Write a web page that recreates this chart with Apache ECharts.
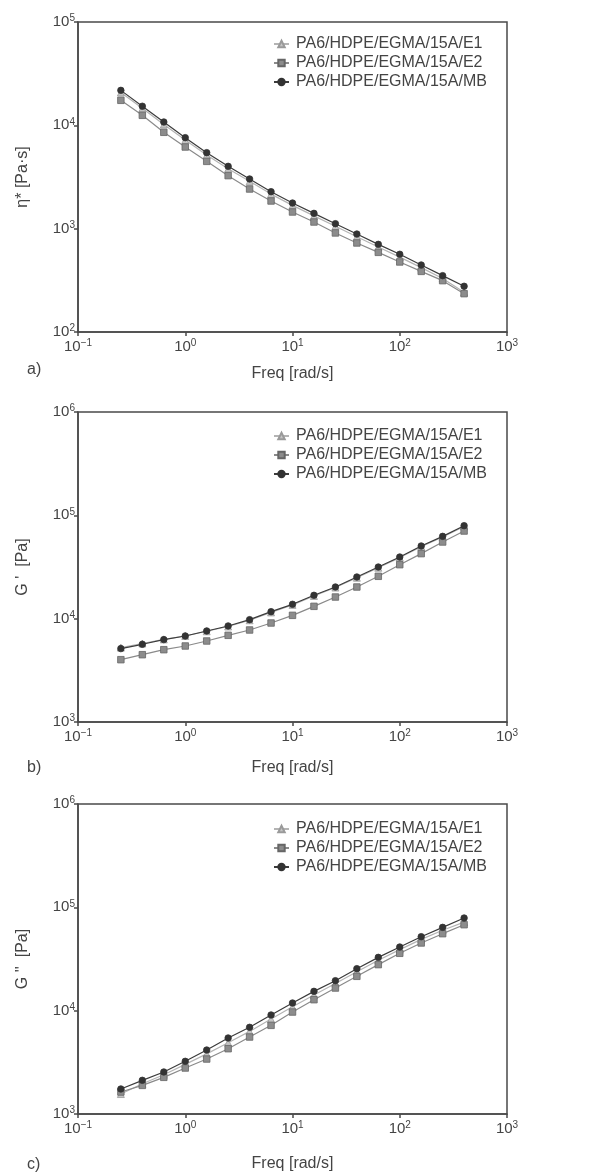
<!DOCTYPE html>
<html>
<head>
<meta charset="utf-8">
<script src="https://cdn.jsdelivr.net/npm/echarts@6/dist/echarts.min.js"></script>
<style>
html,body{margin:0;padding:0;background:#fff;}
#c{width:596px;height:1174px;}
</style>
</head>
<body>
<div id="c"></div>
<script>
// ---- data ----
const freq = [0.251, 0.398, 0.631, 1.0, 1.585, 2.512, 3.981, 6.31, 10, 15.85, 25.12, 39.81, 63.1, 100, 158.5, 251.2, 398.1];
const seriesNames = ['PA6/HDPE/EGMA/15A/E1', 'PA6/HDPE/EGMA/15A/E2', 'PA6/HDPE/EGMA/15A/MB'];

// a) complex viscosity eta* [Pa·s]
const etaE1 = [20800, 14600, 10200, 7200, 5150, 3800, 2870, 2160, 1680, 1330, 1055, 835, 665, 530, 420, 330, 242];
const etaE2 = [17460, 12500, 8560, 6170, 4480, 3260, 2420, 1853, 1450, 1160, 909, 727, 590, 476, 386, 314, 235];
const etaMB = [21800, 15300, 10770, 7600, 5440, 4010, 3025, 2280, 1770, 1406, 1117, 887, 705, 565, 445, 351, 277];

// b) storage modulus G' [Pa]
const gpE1 = [5250, 5750, 6300, 6800, 7550, 8400, 9650, 11500, 13600, 16600, 20000, 24900, 31100, 39000, 49800, 61800, 78000];
const gpE2 = [4010, 4480, 5010, 5440, 6080, 6900, 7770, 9080, 10770, 13160, 16200, 20250, 25700, 33300, 42600, 55200, 70500];
const gpMB = [5130, 5650, 6270, 6800, 7600, 8500, 9780, 11690, 13770, 16830, 20250, 25300, 31600, 39500, 50500, 62600, 79400];

// c) loss modulus G'' [Pa]
const gppE1 = [1560, 1960, 2400, 3020, 3820, 4900, 6300, 8300, 10900, 14200, 18300, 23800, 30800, 39000, 49000, 60000, 72000];
const gppE2 = [1633, 1892, 2264, 2787, 3404, 4285, 5560, 7210, 9700, 12770, 16560, 21500, 27900, 35900, 45200, 55600, 67900];
const gppMB = [1746, 2118, 2550, 3234, 4160, 5440, 6900, 9080, 11860, 15380, 19500, 25500, 32800, 41300, 52000, 64000, 78800];

// ---- styles ----
const FONT = 'Liberation Sans, Arial, sans-serif';
const TXT = '#444';
const styles = [
  {symbol: 'triangle', size: 7, line: '#b4b4b4', fill: '#c4c4c4', border: '#9a9a9a'},
  {symbol: 'rect', size: 6.5, line: '#8a8a8a', fill: '#8c8c8c', border: '#666'},
  {symbol: 'circle', size: 6.5, line: '#3c3c3c', fill: '#333', border: '#333'}
];

const panels = [
  {top: 22, ymin: 100, ymax: 100000, name: 'η* [Pa·s]', data: [etaE1, etaE2, etaMB], legendTop: 31, label: 'a)', labelY: 362, nameGap: 34},
  {top: 412, ymin: 1000, ymax: 1000000, name: "G '  [Pa]", data: [gpE1, gpE2, gpMB], legendTop: 423, label: 'b)', labelY: 760, nameGap: 38},
  {top: 804, ymin: 1000, ymax: 1000000, name: "G ''  [Pa]", data: [gppE1, gppE2, gppMB], legendTop: 816, label: 'c)', labelY: 1157, nameGap: 42}
];

function expLabel(v) {
  const e = Math.round(Math.log10(v));
  return '10{s|' + (e < 0 ? '−' + (-e) : e) + '}';
}

const rich = {
  s: {fontSize: 10, fontFamily: FONT, color: TXT, verticalAlign: 'top', padding: [0, 0, 7, 0]}
};

const grid = [], xAxis = [], yAxis = [], series = [], legend = [], graphic = [];
panels.forEach((p, i) => {
  grid.push({left: 78, width: 429, top: p.top, height: 310, show: true, borderColor: '#4a4a4a', borderWidth: 1.5, backgroundColor: 'transparent'});
  xAxis.push({
    type: 'log', logBase: 10, min: 0.1, max: 1000, gridIndex: i,
    name: 'Freq [rad/s]', nameLocation: 'middle', nameGap: p.nameGap,
    nameTextStyle: {fontFamily: FONT, fontSize: 16, color: TXT},
    axisLine: {show: true, lineStyle: {color: '#4a4a4a', width: 1.5}},
    axisTick: {show: true, length: 4, lineStyle: {color: '#4a4a4a', width: 1.5}},
    minorTick: {show: false},
    splitLine: {show: false},
    axisLabel: {fontFamily: FONT, fontSize: 15, color: TXT, margin: 6, formatter: expLabel, rich: rich}
  });
  yAxis.push({
    type: 'log', logBase: 10, min: p.ymin, max: p.ymax, gridIndex: i,
    name: p.name, nameLocation: 'middle', nameGap: 47, nameRotate: 90,
    nameTextStyle: {fontFamily: FONT, fontSize: 16, color: TXT},
    axisLine: {show: true, lineStyle: {color: '#4a4a4a', width: 1.5}},
    axisTick: {show: true, length: 4, lineStyle: {color: '#4a4a4a', width: 1.5}},
    splitLine: {show: false},
    axisLabel: {fontFamily: FONT, fontSize: 15, color: TXT, margin: 3, formatter: expLabel, rich: rich}
  });
  p.data.forEach((arr, k) => {
    const st = styles[k];
    series.push({
      type: 'line', name: seriesNames[k], xAxisIndex: i, yAxisIndex: i,
      data: freq.map((f, j) => [f, arr[j]]),
      symbol: st.symbol, symbolSize: st.size, showAllSymbol: true,
      lineStyle: {color: st.line, width: 1.2},
      itemStyle: {color: st.fill, borderColor: st.border, borderWidth: 0.8},
      emphasis: {disabled: true},
      animation: false, z: 2 + k
    });
  });
  legend.push({
    left: 268, top: p.legendTop, orient: 'vertical',
    itemWidth: 15, itemHeight: 8, itemGap: 3,
    data: seriesNames,
    textStyle: {fontFamily: FONT, fontSize: 16, color: TXT, lineHeight: 16, padding: [0, 0, 0, 2]},
    selectedMode: false
  });
  graphic.push({type: 'text', left: 27, top: p.labelY, style: {text: p.label, fontFamily: FONT, fontSize: 16, fill: TXT}});
});

const chart = echarts.init(document.getElementById('c'), null, {renderer: 'canvas'});
chart.setOption({
  animation: false,
  backgroundColor: '#fff',
  grid, xAxis, yAxis, series, legend, graphic
});
</script>
</body>
</html>
